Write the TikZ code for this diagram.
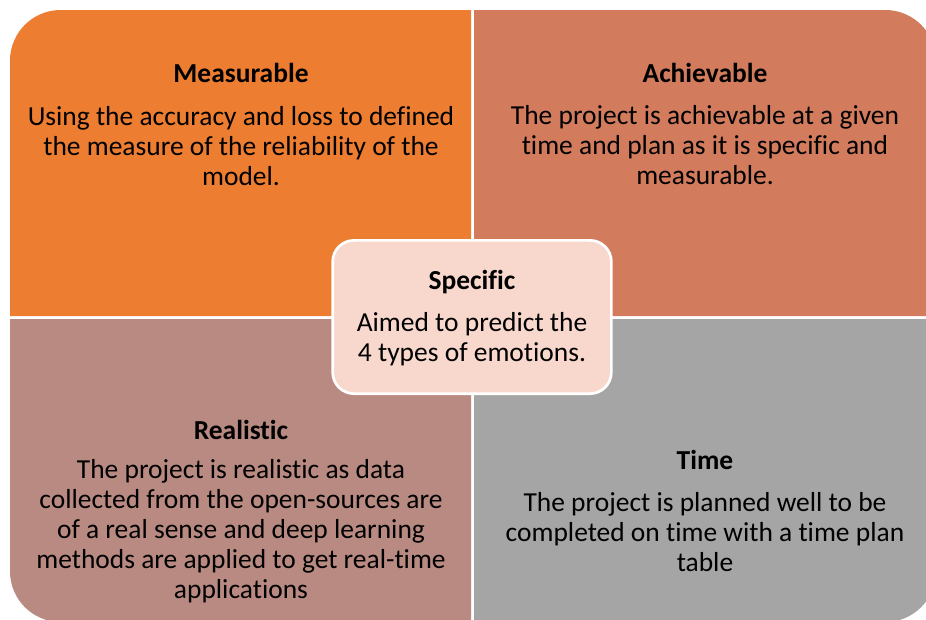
\documentclass[tikz,border=0pt]{standalone}
\usepackage{fontspec}
\setmainfont{Carlito}[RawFeature={-liga,-clig,-dlig,-calt}]
\usetikzlibrary{positioning}
\definecolor{qorange}{HTML}{ED7D31}
\definecolor{qcoral}{HTML}{D27B5D}
\definecolor{qrose}{HTML}{B98A82}
\definecolor{qgray}{HTML}{A5A5A5}
\definecolor{qpink}{HTML}{F8D8CD}

\begin{document}
\begin{tikzpicture}[x=0.75pt,y=-0.75pt,
  head/.style={font=\fontsize{20.6}{22.5}\selectfont\bfseries,align=center,inner sep=0pt},
  body/.style={font=\fontsize{20.6}{22.5}\selectfont,align=center,inner sep=0pt},
  core/.style={rectangle,draw=white,line width=2pt,fill=qpink,rounded corners=16pt, minimum width=209pt,minimum height=115pt}
]
  \useasboundingbox (0,0) rectangle (926,619);
  % four quadrants, only the outer corner is rounded
  \fill[qorange] (471,316) -- (10,316) [rounded corners=38pt] -- (10,10) [sharp corners] -- (471,10) -- cycle;
  \fill[qcoral]  (474,316) -- (474,10) [rounded corners=38pt] -- (936,10) [sharp corners] -- (936,316) -- cycle;
  \fill[qrose]   (471,319) -- (10,319) [rounded corners=38pt] -- (10,622) [sharp corners] -- (471,622) -- cycle;
  \fill[qgray]   (474,319) -- (474,622) [rounded corners=38pt] -- (936,622) [sharp corners] -- (936,319) -- cycle;

  \node[head](meas) at (241,73)  {Measurable};
  \node[body](measT) at (241,146) {Using the accuracy and loss to defined\\the measure of the reliability of the\\model.};
  \node[head](achi) at (705,73)  {Achievable};
  \node[body](achiT) at (705,145) {The project is achievable at a given\\time and plan as it is specific and\\measurable.};
  \node[head](real) at (241,430) {Realistic};
  \node[body](realT) at (241,531) {The project is realistic as data\\collected from the open-sources are\\of a real sense and deep learning\\methods are applied to get real-time\\applications};
  \node[head](time) at (705,460) {Time};
  \node[body](timeT) at (705,532) {The project is planned well to be\\completed on time with a time plan\\table};

  % centre card
  \node[core](spec) at (472,317) {};
  \node[head](specH) at (472,282) {Specific};
  \node[body](specT) at (472,339) {Aimed to predict the\\4 types of emotions.};
\end{tikzpicture}
\end{document}
